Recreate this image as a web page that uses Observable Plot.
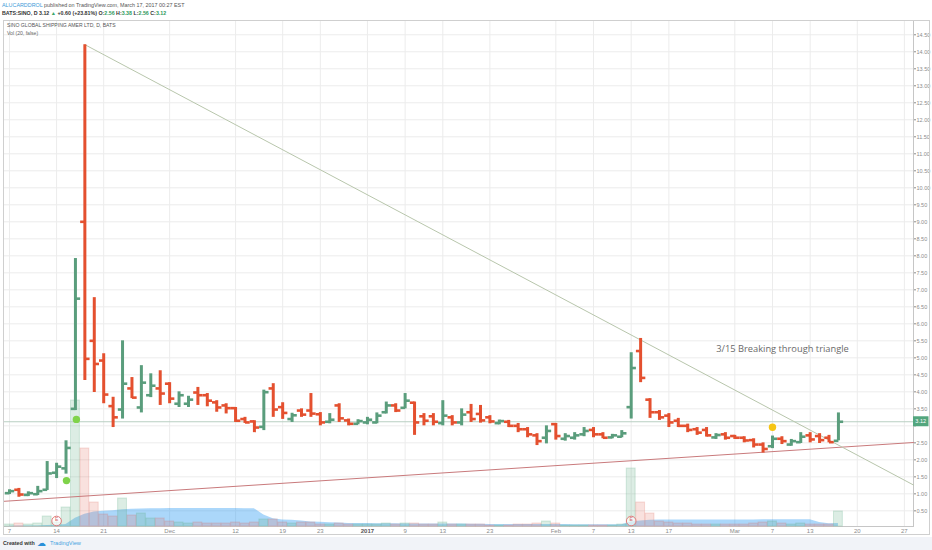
<!DOCTYPE html>
<html><head><meta charset="utf-8">
<script src="https://cdn.jsdelivr.net/npm/d3@7"></script>
<script src="https://cdn.jsdelivr.net/npm/@observablehq/plot@0.6"></script>
<style>
body{margin:0;background:#fff;font-family:"Liberation Sans",Arial,sans-serif}
#wrap{position:relative;width:932px;height:550px;overflow:hidden;background:#fff}
#wrap svg{position:absolute;left:0;top:0}
.t{position:absolute;white-space:nowrap;line-height:1}
</style></head><body><div id="wrap"></div>
<script>
// ---- data (bar index = trading day from Nov 7, 2016) ----
const open = [1.02,1.12,0.97,0.99,1.12,1.62,1.75,3.50,9.00,5.50,
 4.92,3.58,3.48,4.10,3.54,3.90,4.10,4.24,3.65,3.65,
 3.98,3.90,3.69,3.60,3.52,3.20,3.13,2.97,4.10,3.55,
 3.20,3.45,3.45,3.34,3.12,3.60,3.16,3.06,3.10,3.10,
 3.40,3.60,3.53,3.68,3.28,3.28,3.08,3.25,3.10,3.40,
 3.35,3.25,3.08,3.12,3.00,2.90,2.72,2.65,3.05,2.62,
 2.65,2.75,2.88,2.75,2.66,2.68,3.55,5.20,3.77,3.40,
 3.30,3.15,3.00,2.90,2.88,2.66,2.75,2.70,2.65,2.58,
 2.45,2.40,2.62,2.45,2.52,2.72,2.70,2.65,2.56];
const high = [1.12,1.16,1.06,1.22,1.95,1.90,2.56,7.92,14.21,6.77,
 5.12,3.84,5.50,4.42,4.77,4.53,4.62,4.27,4.00,3.87,
 4.13,3.95,3.74,3.65,3.54,3.25,3.15,4.05,4.24,3.68,
 3.37,3.50,3.95,3.39,3.36,3.65,3.20,3.18,3.25,3.38,
 3.70,3.65,3.95,3.70,3.36,3.36,3.74,3.30,3.50,3.63,
 3.60,3.30,3.17,3.16,3.07,2.95,2.77,3.00,3.07,2.77,
 2.80,2.95,2.95,2.80,2.75,2.86,5.15,5.57,3.80,3.45,
 3.36,3.22,3.05,2.95,2.95,2.77,2.80,2.72,2.68,2.62,
 2.50,2.70,2.68,2.60,2.80,2.80,2.77,2.72,3.38];
const low = [0.98,0.90,0.92,0.95,1.10,1.45,1.58,3.45,4.33,3.98,
 3.65,2.95,3.20,3.80,3.38,3.83,3.60,3.65,3.54,3.54,
 3.60,3.56,3.40,3.35,3.10,3.07,2.80,2.86,3.25,3.19,
 3.10,3.25,3.25,3.00,3.06,3.10,3.00,3.03,3.03,3.06,
 3.35,3.39,3.50,2.72,3.00,3.00,3.00,3.00,3.00,3.10,
 3.08,3.06,3.03,2.95,2.80,2.65,2.42,2.47,2.58,2.55,
 2.58,2.68,2.65,2.62,2.62,2.65,3.20,4.27,3.22,3.16,
 2.95,2.95,2.80,2.72,2.67,2.60,2.58,2.60,2.50,2.35,
 2.20,2.33,2.45,2.40,2.48,2.50,2.48,2.50,2.56];
const close = [1.08,0.98,1.02,1.08,1.60,1.80,2.35,6.74,4.97,4.82,
 3.92,3.25,4.24,3.83,4.27,4.18,3.95,3.80,3.90,3.77,
 3.90,3.74,3.54,3.52,3.15,3.10,2.95,3.99,3.48,3.38,
 3.31,3.33,3.36,3.10,3.18,3.22,3.06,3.14,3.18,3.30,
 3.60,3.45,3.74,3.10,3.15,3.12,3.30,3.10,3.33,3.20,
 3.16,3.13,3.14,3.00,2.90,2.75,2.55,2.85,2.70,2.70,
 2.72,2.85,2.75,2.65,2.72,2.78,4.70,4.41,3.40,3.25,
 3.10,3.00,2.88,2.80,2.72,2.73,2.65,2.65,2.57,2.45,
 2.32,2.62,2.55,2.55,2.68,2.60,2.58,2.52,3.12];
// volume, millions of shares
const volume = [0.2,0.3,0.2,0.3,1.0,0.4,1.9,12.6,7.8,2.4,
 1.2,1.0,2.8,1.1,1.3,0.8,0.8,0.5,0.4,0.3,
 0.4,0.3,0.3,0.3,0.4,0.3,0.4,0.7,0.7,0.4,
 0.3,0.4,0.4,0.2,0.2,0.3,0.2,0.2,0.2,0.2,
 0.3,0.2,0.3,0.3,0.2,0.2,0.4,0.2,0.2,0.2,
 0.2,0.1,0.1,0.1,0.2,0.2,0.3,0.5,0.3,0.1,
 0.1,0.1,0.1,0.1,0.1,0.2,5.8,2.4,1.3,0.5,
 0.4,0.3,0.3,0.2,0.2,0.2,0.2,0.2,0.2,0.3,
 0.4,0.5,0.3,0.2,0.3,0.2,0.2,0.2,1.5];
// Vol (20) moving average
const volMA = [0.03,0.04,0.05,0.06,0.10,0.12,0.20,0.83,1.22,1.45,
 1.53,1.58,1.68,1.72,1.75,1.77,1.78,1.79,1.79,1.80,
 1.80,1.80,1.80,1.80,1.79,1.78,1.77,1.15,0.77,0.66,
 0.62,0.56,0.45,0.42,0.38,0.35,0.31,0.30,0.29,0.28,
 0.27,0.27,0.26,0.26,0.25,0.25,0.25,0.24,0.24,0.23,
 0.22,0.21,0.20,0.20,0.19,0.19,0.19,0.20,0.20,0.19,
 0.18,0.18,0.17,0.17,0.17,0.17,0.45,0.56,0.62,0.64,
 0.65,0.66,0.66,0.66,0.66,0.66,0.66,0.66,0.66,0.66,
 0.67,0.68,0.68,0.68,0.68,0.68,0.40,0.28,0.30];
const xTickIdx = [0,5,10,17,24,29,33,38,42,46,51,58,62,66,70,77,81,85,90,95];
const xTickLabels = ["7","14","21","Dec","12","19","23","2017","9","13","23","Feb","7","13","17","Mar","7","13","20","27"];
const yTicks = [0.5,1,1.5,2,2.5,3,3.5,4,4.5,5,5.5,6,6.5,7,7.5,8,8.5,9,9.5,10,10.5,11,11.5,12,12.5,13,13.5,14,14.5];
// drawings
const resistIdx = [8, 95.97], resistPrice = [14.21, 1.26];
const supportIdx = [-0.637, 95.97], supportPrice = [0.78, 2.51];
const greenDotIdx = [6.05, 7.1], greenDotPrice = [1.39, 3.19];
const yellowDotIdx = [81], yellowDotPrice = [2.96];
const earningsIdx = [5, 66];
const noteIdx = 82.06, notePrice = 5.27, noteText = "3/15 Breaking through triangle";

// ---- build ----
const bars = open.map((o,i)=>({i, o, h:high[i], l:low[i], c:close[i], v:volume[i], ma:volMA[i], up: close[i] >= o}));
const GREEN = "#5a9d7c", RED = "#e4502f";
const labelOf = new Map(xTickIdx.map((d,k)=>[d, xTickLabels[k]]));
const W = 932, H = 550;
const base = {width:W, height:H, marginLeft:3, marginRight:19, marginTop:20, marginBottom:24,
  style:{background:"transparent", overflow:"visible", fontFamily:"'Liberation Sans', Arial, sans-serif"}};
const xs = {type:"linear", domain:[-0.637, 95.97]};
const priceDomain = [0.04, 14.92];

const gridPlot = Plot.plot({...base, x:xs, y:{domain:priceDomain},
  marks:[
    Plot.ruleY(yTicks, {stroke:"#ececec"}),
    Plot.ruleX(xTickIdx, {stroke:"#ececec"}),
    Plot.frame({stroke:"#c6c6c6"}),
    Plot.axisY(yTicks, {anchor:"right", tickFormat:d=>d.toFixed(2), tickSize:2, tickPadding:1, fontSize:5.5, color:"#8c8c8c"}),
    Plot.axisX(xTickIdx, {tickFormat:d=>labelOf.get(d), tickSize:0, tickPadding:1.8, fontSize:6, color:"#8c8c8c"})
  ]});

const volPlot = Plot.plot({...base, x:{...xs, axis:null}, y:{domain:[0, 50.6], axis:null},
  marks:[
    Plot.areaY(bars, {x:"i", y:"ma", fill:"#2196f3", fillOpacity:0.38}),
    Plot.rectY(bars, {filter:d=>d.up, x1:d=>d.i-0.47, x2:d=>d.i+0.47, y:"v", fill:"#5fae86", fillOpacity:0.22, stroke:"#5fae86", strokeOpacity:0.25}),
    Plot.rectY(bars, {filter:d=>!d.up, x1:d=>d.i-0.47, x2:d=>d.i+0.47, y:"v", fill:"#e0685a", fillOpacity:0.2, stroke:"#e0685a", strokeOpacity:0.22})
  ]});

const resist = resistIdx.map((x,k)=>({x, y:resistPrice[k]}));
const support = supportIdx.map((x,k)=>({x, y:supportPrice[k]}));
const priceMarks = (up, col) => [
  Plot.ruleX(bars, {filter:d=>d.up===up, x:"i", y1:"l", y2:"h", stroke:col, strokeWidth:3}),
  Plot.link(bars, {filter:d=>d.up===up, x1:d=>d.i-0.5, x2:"i", y1:"o", y2:"o", stroke:col, strokeWidth:2.6}),
  Plot.link(bars, {filter:d=>d.up===up, x1:"i", x2:d=>d.i+0.5, y1:"c", y2:"c", stroke:col, strokeWidth:2.6})
];
const pricePlot = Plot.plot({...base, x:{...xs, axis:null}, y:{domain:priceDomain, axis:null},
  marks:[
    Plot.ruleY([close[close.length-1]], {stroke:"#b9cfc2", strokeWidth:1}),
    Plot.line(support, {x:"x", y:"y", stroke:"#c97a7c", strokeWidth:1}),
    Plot.line(resist, {x:"x", y:"y", stroke:"#b8c6ac", strokeWidth:1}),
    ...priceMarks(true, GREEN),
    ...priceMarks(false, RED),
    Plot.dot(greenDotIdx.map((x,k)=>({x, y:greenDotPrice[k]})), {x:"x", y:"y", r:3.7, fill:"#7fd34a", stroke:"none"}),
    Plot.dot(yellowDotIdx.map((x,k)=>({x, y:yellowDotPrice[k]})), {x:"x", y:"y", r:3.7, fill:"#f6c514", stroke:"none"}),
    Plot.dot(earningsIdx, {x:d=>d, frameAnchor:"bottom", dy:-5.5, r:4.8, fill:"white", fillOpacity:0.6, stroke:"#e07b7b", strokeWidth:1}),
    Plot.text(earningsIdx, {x:d=>d, frameAnchor:"bottom", dy:-5.5, text:()=>"E", fontSize:5, fill:"#d46a6a"}),
    Plot.text([noteText], {x:()=>noteIdx, y:()=>notePrice, text:d=>d, fontSize:9.3, fontFamily:"'Open Sans', sans-serif", fill:"#6a6a6a"})
  ]});

const wrap = document.getElementById("wrap");
wrap.append(gridPlot, volPlot, pricePlot);

// bold year label
d3.select(gridPlot).selectAll("text").filter(function(){return this.textContent==="2017";}).attr("font-weight","bold").attr("fill","#555");
// last price label on the price axis (hides the axis label it covers)
{
  const ys = gridPlot.scale("y");
  const last = close[close.length-1];
  const yv = ys.apply(last);
  d3.select(gridPlot).selectAll("text").filter(function(){
    const t = +this.textContent; return !isNaN(t) && Math.abs(ys.apply(t) - yv) < 8 && this.textContent.includes(".");
  }).attr("opacity", 0);
  const g = d3.select(gridPlot).append("g");
  g.append("rect").attr("x",913).attr("y",yv-5).attr("width",15.5).attr("height",10).attr("fill","#53a67e");
  g.append("text").attr("x",920.7).attr("y",yv+2).attr("text-anchor","middle").attr("font-size",5.5).attr("fill","white").text(last.toFixed(2));
}

// ---- texts around the chart ----
function addText(html, left, top, style){
  const d = document.createElement("div"); d.className="t"; d.innerHTML = html;
  d.style.left = left+"px"; d.style.top = top+"px"; Object.assign(d.style, style||{}); wrap.appendChild(d);
}
addText('<span style="color:#3c9ad8">ALUCARDDROL</span> published on TradingView.com, March 17, 2017 00:27 EST', 2, 2.5, {fontSize:"5.4px", color:"#555"});
addText('BATS:SINO, D <span>3.12</span> <span style="color:#3aa66a">▲</span> +0.60 (+23.81%) O:<span style="color:#2f9a5c">2.56</span> H:<span style="color:#2f9a5c">3.38</span> L:<span style="color:#2f9a5c">2.56</span> C:<span style="color:#2f9a5c">3.12</span>', 2, 10.5, {fontSize:"5.3px", color:"#333", fontWeight:"bold"});
addText('SINO GLOBAL SHIPPING AMER LTD, D, BATS', 7, 22.5, {fontSize:"5.1px", color:"#555"});
addText('Vol (20, false)', 7, 30.5, {fontSize:"5.1px", color:"#666"});
// outer axis border and footer band
const box = document.createElement("div");
Object.assign(box.style,{position:"absolute",left:"3px",top:"20px",width:"927px",height:"515px",border:"1px solid #cfcfcf",boxSizing:"border-box",pointerEvents:"none"});
wrap.appendChild(box);
const foot = document.createElement("div");
Object.assign(foot.style,{position:"absolute",left:"0px",top:"537px",width:"932px",height:"13px",background:"#f1f3f8"});
wrap.appendChild(foot);
addText('Created with', 3, 541, {fontSize:"5.3px", color:"#333", fontWeight:"bold"});
addText('☁', 37, 538.5, {fontSize:"8.5px", color:"#2a8fd8"});
addText('TradingView', 50, 541, {fontSize:"5.6px", color:"#45a2e0"});
</script></body></html>
